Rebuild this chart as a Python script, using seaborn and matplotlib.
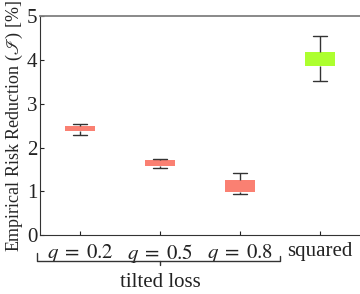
import numpy as np
import pandas as pd
import seaborn as sns
import matplotlib.pyplot as plt
from matplotlib import transforms

# five-number summaries: low whisker, Q1, median, Q3, high whisker
groups = [r'$q\;=\;0.2$', r'$q\;=\;0.5$', r'$q\;=\;0.8$', 'squared']
q02 = [2.28, 2.38, 2.44, 2.50, 2.53]
q05 = [1.54, 1.59, 1.65, 1.71, 1.74]
q08 = [0.94, 0.99, 1.12, 1.26, 1.42]
squared = [3.52, 3.87, 4.02, 4.18, 4.55]
colors = ['#fa8072', '#fa8072', '#fa8072', '#adff2f']

rows = []
for g, vals in zip(groups, [q02, q05, q08, squared]):
    for v in vals:
        rows.append({'loss': g, 'value': v})
df = pd.DataFrame(rows)

sns.set_style('ticks')
plt.rcParams['font.family'] = ['Liberation Serif', 'DejaVu Serif']
plt.rcParams['mathtext.fontset'] = 'stix'

fig = plt.figure(figsize=(3.6, 2.94), dpi=100)
ax = fig.add_axes([0.111, 0.2, 0.889, 0.745])

sns.boxplot(data=df, x='loss', y='value', hue='loss', palette=colors, legend=False,
            saturation=1, whis=np.inf, width=0.37, ax=ax, linewidth=0,
            boxprops=dict(edgecolor='none'),
            medianprops=dict(linewidth=0),
            whiskerprops=dict(color='#333333', linewidth=1.0),
            capprops=dict(color='#333333', linewidth=1.0))

ax.set_xlim(-0.5, 3.5)
ax.set_ylim(0, 5)
ax.set_yticks([0, 1, 2, 3, 4, 5])
ax.set_xlabel('')
ax.set_ylabel(r'Empirical Risk Reduction ($\mathscr{I}$) [%]', fontsize=13, labelpad=1)
ax.tick_params(direction='in', length=3, labelsize=15, pad=2, colors='#222222')
ax.tick_params(axis='x', pad=5)
ax.spines['right'].set_visible(False)
ax.spines['top'].set_color('#808080')
ax.spines['top'].set_linewidth(1.3)
for s in ['left', 'bottom']:
    ax.spines[s].set_color('#333333')

# bracket under the tilted-loss groups
tr = transforms.blended_transform_factory(ax.transData, ax.transAxes)
ax.plot([-0.54, -0.54, 2.5, 2.5], [-0.082, -0.119, -0.119, -0.095], color='#333333',
        lw=1.0, transform=tr, clip_on=False)
ax.plot([1, 1], [-0.119, -0.137], color='#333333', lw=1.0, transform=tr, clip_on=False)
ax.text(1, -0.215, 'tilted loss', transform=tr, ha='center', va='center', fontsize=15,
        color='#222222')

fig.savefig('out.png', dpi=100)
